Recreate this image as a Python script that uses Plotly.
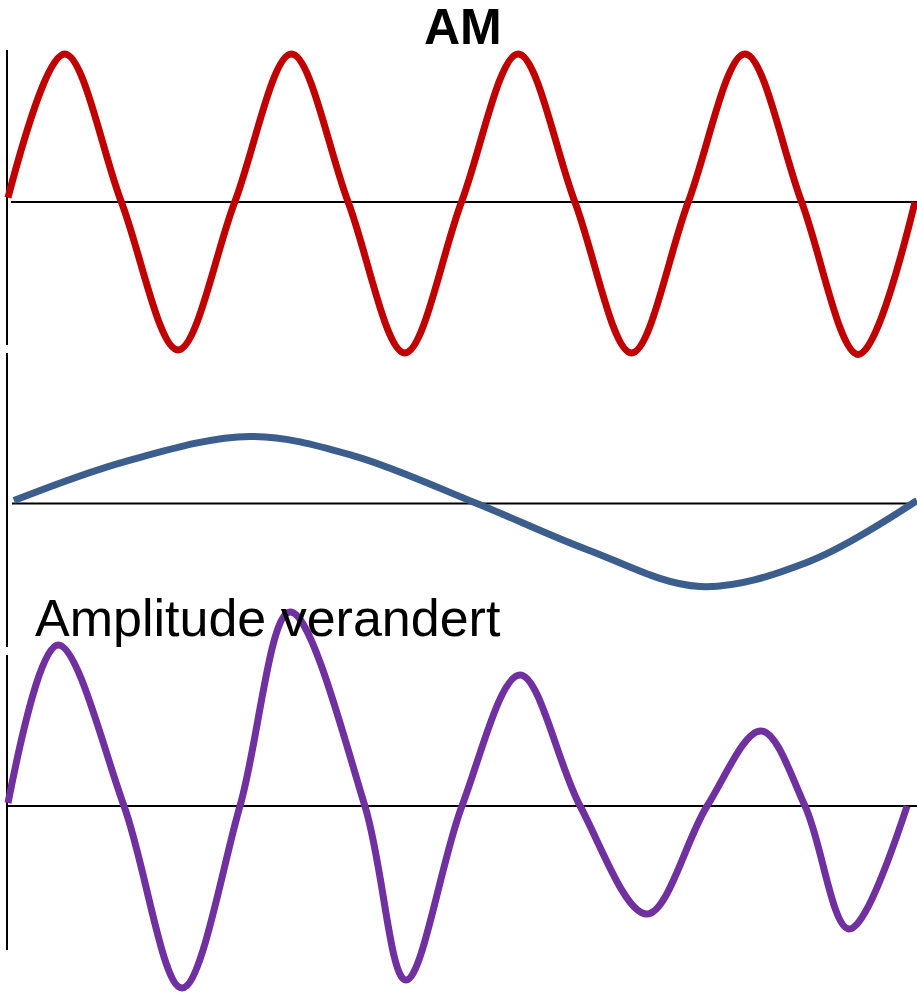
import plotly.graph_objects as go

# ---------------- data (time in carrier periods, amplitude in carrier units) ----------------
carrier_t = [0.0, 0.25, 0.5, 0.75, 1.0, 1.25, 1.5, 1.75, 2.0,
             2.25, 2.5, 2.75, 3.0, 3.25, 3.5, 3.75, 4.0]
carrier_v = [0.03, 1.0, 0.0, -1.0, 0.0, 1.0, 0.0, -1.02, 0.0,
             1.0, 0.0, -1.02, 0.0, 1.0, 0.0, -1.03, 0.0]

signal_t = [0.026, 0.520, 1.067, 1.521, 2.068, 2.558, 3.052, 3.528, 4.009]
signal_v = [0.02, 0.285, 0.453, 0.324, 0.0, -0.314, -0.561, -0.395, 0.02]

am_t = [0.0, 0.2205, 0.5116, 0.767, 1.023, 1.244, 1.574, 1.755, 2.002,
        2.258, 2.523, 2.818, 3.083, 3.321, 3.515, 3.709, 3.965]
am_v = [0.02, 1.088, 0.0, -1.230, 0.0, 1.311, 0.0, -1.176, 0.0,
        0.885, 0.0, -0.730, 0.0, 0.507, 0.0, -0.831, 0.0]

title_text = "AM"
label_text = "Amplitude verandert"

# ---------------- layout geometry ----------------
W, H = 917, 994
PX_PER_T = 226.75      # horizontal pixels per carrier period
T0_PX = 8              # pixel where t = 0
PX_PER_UNIT = 148      # vertical pixels per amplitude unit
zero_px = [202, 503.5, 806]   # zero-line pixel rows (from top) of the three panels
vlines = [(50, 345), (353, 647), (655, 950)]
zline_start = [11, 12, 8]

x_range = [-T0_PX / PX_PER_T, (W - T0_PX) / PX_PER_T]

def yrange(z):
    return [-(H - z) / PX_PER_UNIT, z / PX_PER_UNIT]

fig = go.Figure()
fig.add_trace(go.Scatter(x=carrier_t, y=carrier_v, mode="lines", yaxis="y",
                         line=dict(color="#C00000", width=7, shape="spline", smoothing=1.0)))
fig.add_trace(go.Scatter(x=signal_t, y=signal_v, mode="lines", yaxis="y2",
                         line=dict(color="#3B5E8C", width=7, shape="spline", smoothing=1.0)))
fig.add_trace(go.Scatter(x=am_t, y=am_v, mode="lines", yaxis="y3",
                         line=dict(color="#7030A0", width=7, shape="spline", smoothing=1.0)))

shapes = []
for (yt, yb) in vlines:
    shapes.append(dict(type="line", xref="paper", yref="paper",
                       x0=7 / W, x1=7 / W, y0=1 - yb / H, y1=1 - yt / H,
                       line=dict(color="black", width=2), layer="below"))
for i, ax in enumerate(["y", "y2", "y3"]):
    shapes.append(dict(type="line", xref="paper", yref=ax,
                       x0=zline_start[i] / W, x1=1, y0=0, y1=0,
                       line=dict(color="black", width=2), layer="below"))

axis_common = dict(visible=False, domain=[0, 1], fixedrange=True)
fig.update_layout(
    width=W, height=H,
    margin=dict(l=0, r=0, t=0, b=0),
    paper_bgcolor="white", plot_bgcolor="rgba(0,0,0,0)",
    showlegend=False,
    xaxis=dict(visible=False, range=x_range, domain=[0, 1], fixedrange=True),
    yaxis=dict(range=yrange(zero_px[0]), **axis_common),
    yaxis2=dict(range=yrange(zero_px[1]), overlaying="y", **axis_common),
    yaxis3=dict(range=yrange(zero_px[2]), overlaying="y", **axis_common),
    shapes=shapes,
    annotations=[
        dict(text="<b>" + title_text + "</b>", xref="paper", yref="paper",
             x=463 / W, y=1 - 27 / H, xanchor="center", yanchor="middle",
             showarrow=False, font=dict(family="Liberation Sans, Arial", size=50, color="black")),
        dict(text=label_text, xref="paper", yref="paper",
             x=33 / W, y=1 - 618 / H, xanchor="left", yanchor="middle",
             showarrow=False, font=dict(family="Liberation Sans, Arial", size=52, color="black")),
    ],
)

fig.write_html("out.html", config={"displayModeBar": False},
               post_script="document.body.style.margin='0';document.body.style.overflow='hidden';")
